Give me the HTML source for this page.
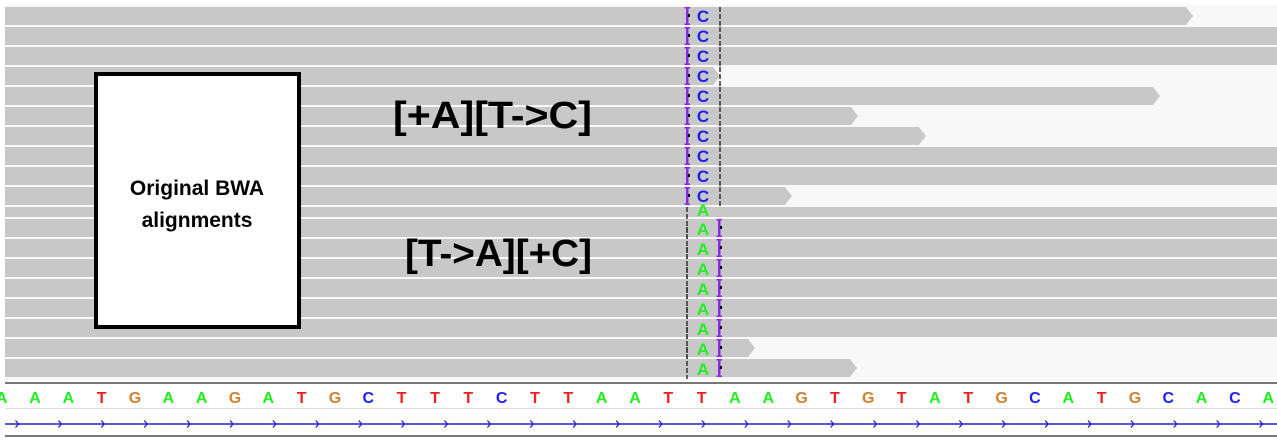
<!DOCTYPE html>
<html><head><meta charset="utf-8"><style>
html,body{margin:0;padding:0;background:#fff;}
svg{display:block;font-family:"Liberation Sans",sans-serif;}
</style></head><body>
<svg id="c" width="1277" height="441" viewBox="0 0 1277 441" xmlns="http://www.w3.org/2000/svg">
<rect x="0" y="0" width="1277" height="441" fill="#fff"/>
<rect x="5" y="5" width="1272" height="376" fill="#f8f8f8"/>
<g id="reads"></g>
<g id="marks"></g>
<rect x="96" y="74" width="203" height="253" fill="#fff" stroke="#000" stroke-width="4"/>
<text x="197" y="195" text-anchor="middle" font-size="21" font-weight="bold">Original BWA</text>
<text x="197" y="227" text-anchor="middle" font-size="21" font-weight="bold">alignments</text>
<text x="393" y="128" font-size="38" font-weight="bold" textLength="199" lengthAdjust="spacingAndGlyphs">[+A][T-&gt;C]</text>
<text x="405" y="266" font-size="38" font-weight="bold" textLength="187" lengthAdjust="spacingAndGlyphs">[T-&gt;A][+C]</text>
<rect x="5" y="382" width="1272" height="2" fill="#777"/>
<rect x="5" y="386" width="1272" height="22" fill="#fff"/>
<rect x="5" y="408" width="1272" height="1" fill="#ddd"/>
<g id="seq"></g>
<line x1="5" y1="424" x2="1277" y2="424" stroke="#2222cc" stroke-width="1.5"/>
<g id="arrows"></g>
<rect x="5" y="435" width="1272" height="2" fill="#777"/>
</svg>
<script>
const NS="http://www.w3.org/2000/svg";
const sequence="AAATGAAGATGCTTTCTTAATTAAGTGTATGCATGCACA";
const readEndsTop=[1193,1277,1277,720,1160,858,926,1277,1277,792];
const readEndsBottom=[1277,1277,1277,1277,1277,1277,755,857];
const colors={A:"#22ee22",C:"#2020ee",G:"#d08030",T:"#ee2020"};
const baseW=33.33, base0=1.7;
const bx=i=>base0+baseW*i;
function mk(tag,attrs,parent){const e=document.createElementNS(NS,tag);for(const k in attrs)e.setAttribute(k,attrs[k]);parent.appendChild(e);return e;}
const reads=document.getElementById('reads'), marks=document.getElementById('marks');
function read(y,h,end){
  const full=end>=1277;
  const pts=full?`5,${y} 1277,${y} 1277,${y+h} 5,${y+h}`:`5,${y} ${end-7},${y} ${end},${y+h/2} ${end-7},${y+h} 5,${y+h}`;
  const p=mk('polygon',{points:pts,fill:'#c8c8c8'},reads);
  
  
}
function ibeam(x,y){
  mk('rect',{x:x,y:y,width:2.5,height:18,fill:'#8a2be2'},marks);
  mk('rect',{x:x-1.5,y:y,width:5.5,height:1.5,fill:'#8a2be2'},marks);
  mk('rect',{x:x-1.5,y:y+16.5,width:5.5,height:1.5,fill:'#8a2be2'},marks);
  mk('rect',{x:x+2,y:y+7,width:2,height:3,fill:'#000'},marks);
}
read(207,10,1277);
readEndsTop.forEach((e,i)=>{
  const y=7+20*i;read(y,18,e);
  const t=mk('text',{x:703,y:y+15,'font-size':17,'font-weight':'bold','text-anchor':'middle',fill:colors.C},marks);t.textContent='C';
  
  
  ibeam(686,y);
  mk('line',{x1:720,y1:y,x2:720,y2:y+20,stroke:'#333','stroke-width':1.5,'stroke-dasharray':'5,2'},marks);
});
readEndsBottom.forEach((e,i)=>{
  const y=219+20*i;read(y,18,e);
  const t=mk('text',{x:703,y:y+16,'font-size':17,'font-weight':'bold','text-anchor':'middle',fill:colors.A},marks);t.textContent='A';
  
  
  ibeam(718,y);
  mk('line',{x1:687,y1:y-12,x2:687,y2:y+20,stroke:'#333','stroke-width':1.5,'stroke-dasharray':'5,2'},marks);
});
{const t=mk('text',{x:703,y:216,'font-size':17,'font-weight':'bold','text-anchor':'middle',fill:colors.A},marks);t.textContent='A';}
const seq=document.getElementById('seq');
[...sequence].forEach((b,i)=>{
  const t=mk('text',{x:bx(i),y:403,'font-size':16,'font-weight':'bold','text-anchor':'middle',fill:colors[b]},seq);
  t.textContent=b;
  
  
});
const arrows=document.getElementById('arrows');
for(let x=17;x<1277;x+=42.9){
  mk('path',{d:`M${x-1.5},${420.5} L${x+1.5},424 L${x-1.5},427.5`,stroke:'#2222cc',fill:'none','stroke-width':1.3},arrows);
}
</script>
</body></html>
